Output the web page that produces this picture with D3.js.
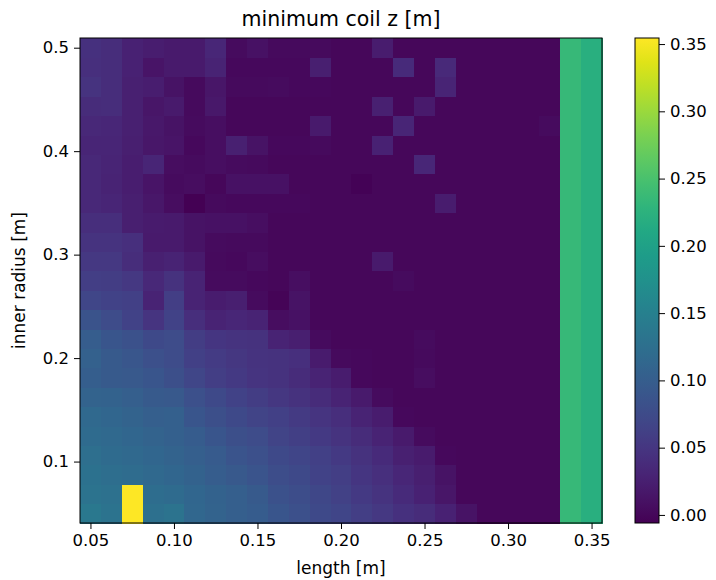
<!DOCTYPE html>
<html>
<head>
<meta charset="utf-8">
<script src="https://cdn.jsdelivr.net/npm/d3@7/dist/d3.min.js"></script>
<style>
body { margin:0; background:#fff; }
text { font-family:"DejaVu Sans", sans-serif; fill:#000; }
</style>
</head>
<body>
<div id="chart"></div>
<script>

// cell centres
var lengths = [0.05, 0.0625, 0.075, 0.0875, 0.1, 0.1125, 0.125, 0.1375, 0.15, 0.1625, 0.175, 0.1875, 0.2,
	0.2125, 0.225, 0.2375, 0.25, 0.2625, 0.275, 0.2875, 0.3, 0.3125, 0.325, 0.3375, 0.35]
var radii = [0.05, 0.06875, 0.0875, 0.10625, 0.125, 0.14375, 0.1625, 0.18125, 0.2, 0.21875, 0.2375, 0.25625, 0.275,
	0.29375, 0.3125, 0.33125, 0.35, 0.36875, 0.3875, 0.40625, 0.425, 0.44375, 0.4625, 0.48125, 0.5]

// minimum coil z, one row per inner radius (bottom row first), one value per length
var minZ = [
	[0.138,0.131,0.3545,0.125,0.131,0.113,0.108,0.102,0.097,0.089,0.082,0.074,0.068,0.060,0.052,0.044,0.038,0.027,0.012,0,0,0,0,0.236,0.222],
	[0.131,0.127,0.3545,0.122,0.119,0.112,0.106,0.102,0.094,0.084,0.078,0.071,0.064,0.054,0.047,0.037,0.027,0.015,0,0,0,0,0,0.236,0.222],
	[0.128,0.123,0.120,0.116,0.112,0.106,0.099,0.093,0.087,0.078,0.073,0.065,0.060,0.050,0.043,0.033,0.024,0.012,0,0,0,0,0,0.236,0.222],
	[0.124,0.119,0.116,0.112,0.107,0.102,0.096,0.088,0.082,0.074,0.068,0.062,0.054,0.045,0.037,0.025,0.020,0.002,0,0,0,0,0,0.236,0.222],
	[0.119,0.116,0.112,0.108,0.103,0.097,0.089,0.081,0.076,0.067,0.061,0.054,0.047,0.039,0.028,0.018,0.004,0,0,0,0,0,0,0.236,0.222],
	[0.116,0.112,0.107,0.102,0.103,0.089,0.081,0.074,0.067,0.062,0.055,0.048,0.041,0.028,0.022,0.002,0,0,0,0,0,0,0,0.236,0.222],
	[0.107,0.106,0.102,0.095,0.093,0.082,0.073,0.065,0.058,0.051,0.045,0.038,0.029,0.018,0.004,0,0,0,0,0,0,0,0,0.236,0.222],
	[0.101,0.094,0.093,0.089,0.081,0.070,0.060,0.054,0.048,0.045,0.038,0.028,0.021,0.002,0,0,0.006,0,0,0,0,0,0,0.236,0.222],
	[0.104,0.094,0.091,0.082,0.077,0.062,0.056,0.051,0.047,0.045,0.042,0.020,0.003,0.002,0,0,0.003,0,0,0,0,0,0,0.236,0.222],
	[0.099,0.089,0.083,0.074,0.076,0.058,0.050,0.047,0.045,0.028,0.024,0.005,0,0,0,0,0.005,0,0,0,0,0,0,0.236,0.222],
	[0.086,0.076,0.065,0.048,0.065,0.041,0.028,0.033,0.028,0.006,0.010,0,0,0,0,0,0,0,0,0,0,0,0,0.236,0.222],
	[0.070,0.065,0.063,0.028,0.059,0.028,0.022,0.024,0.004,-0.003,0.012,0,0,0,0,0,0,0,0,0,0,0,0,0.236,0.222],
	[0.059,0.058,0.052,0.034,0.046,0.028,0.004,0.004,0.002,0,0.008,0,0,0,0,0.005,0,0,0,0,0,0,0,0.236,0.222],
	[0.053,0.053,0.040,0.025,0.029,0.018,0.003,0.002,0.006,0,0,0,0,0,0.018,0,0,0,0,0,0,0,0,0.236,0.222],
	[0.047,0.047,0.043,0.018,0.019,0.012,0.004,0.003,0.003,0,0,0,0,0,0,0,0,0,0,0,0,0,0,0.236,0.222],
	[0.041,0.041,0.024,0.020,0.019,0.012,0.010,0.010,0.008,0,0,0,0,0,0,0,0,0,0,0,0,0,0,0.236,0.222],
	[0.034,0.031,0.024,0.016,0.006,-0.006,0.003,0.002,0.002,0.002,0.002,0,0,0,0,0,0,0.022,0,0,0,0,0,0.236,0.222],
	[0.034,0.029,0.023,0.013,0.005,0.006,0,0.010,0.010,0.010,0,0,0,-0.004,0,0,0,0,0,0,0,0,0,0.236,0.222],
	[0.034,0.030,0.023,0.031,0.006,0.004,0.008,0.005,0.003,0,0,0,0,0,0,0,0.033,0,0,0,0,0,0,0.236,0.222],
	[0.032,0.032,0.024,0.016,0.013,0.002,0.007,0.025,0.012,0.002,0.002,0.003,0,0,0.027,0,0,0,0,0,0,0,0,0.236,0.222],
	[0.034,0.033,0.025,0.017,0.012,0.004,0.008,0,0,0,0,0.018,0,0,0,0.032,0,0,0,0,0,0,0.004,0.236,0.222],
	[0.038,0.040,0.025,0.014,0.018,0.003,0.017,0,0,0,0,0,0,0,0.026,0,0.018,0,0,0,0,0,0,0.236,0.222],
	[0.047,0.040,0.025,0.023,0.012,0.003,0.014,0.003,0.003,0.005,0.002,0.002,0,0,0,0,0,0.030,0,0,0,0,0,0.236,0.222],
	[0.042,0.040,0.027,0.013,0.019,0.018,0.029,0.002,0.002,0.002,0.002,0.024,0,0,0,0.037,0,0.036,0,0,0,0,0,0.236,0.222],
	[0.044,0.040,0.027,0.023,0.019,0.019,0.033,0.004,0.010,0.003,0.003,0.003,0,0,0.022,0,0,0,0,0,0,0,0,0.236,0.222]
]

var xTicks = [0.05, 0.10, 0.15, 0.20, 0.25, 0.30, 0.35]
var yTicks = [0.1, 0.2, 0.3, 0.4, 0.5]
var cbTicks = [0.00, 0.05, 0.10, 0.15, 0.20, 0.25, 0.30, 0.35]

var W = 716, H = 580
var pLeft = 80, pRight = 602, pTop = 38, pBottom = 523
var tickFont = "16.5px"

var svg = d3.select("#chart").append("svg")
	.attr("width", W)
	.attr("height", H)

var dx = lengths[1] - lengths[0]
var dy = radii[1] - radii[0]

var x = d3.scaleLinear()
	.domain([lengths[0] - dx / 2, lengths[lengths.length - 1] + dx / 2])
	.range([pLeft, pRight])

var y = d3.scaleLinear()
	.domain([radii[0] - dy / 2, radii[radii.length - 1] + dy / 2])
	.range([pBottom, pTop])

var allVals = d3.merge(minZ)
var color = d3.scaleSequential(d3.interpolateViridis)
	.domain(d3.extent(allVals))

// flatten into cells
var cells = []
for (var j = 0; j < radii.length; j++)
	for (var i = 0; i < lengths.length; i++)
		cells.push({ l: lengths[i], r: radii[j], v: minZ[j][i] })

svg.append("g")
	.selectAll("rect")
	.data(cells)
	.enter().append("rect")
	.attr("x", function(d) { return x(d.l - dx / 2) })
	.attr("y", function(d) { return y(d.r + dy / 2) })
	.attr("width", function(d) { return x(d.l + dx / 2) - x(d.l - dx / 2) + 0.5 })
	.attr("height", function(d) { return y(d.r - dy / 2) - y(d.r + dy / 2) + 0.5 })
	.attr("fill", function(d) { return color(d.v) })
	.attr("shape-rendering", "crispEdges")

// axes
var xAxis = d3.axisBottom(x).tickValues(xTicks).tickFormat(d3.format(".2f")).tickSizeOuter(0).tickSize(6).tickPadding(5)
var yAxis = d3.axisLeft(y).tickValues(yTicks).tickFormat(d3.format(".1f")).tickSizeOuter(0).tickSize(6).tickPadding(5)

var gx = svg.append("g").attr("transform", "translate(0," + pBottom + ")").call(xAxis)
var gy = svg.append("g").attr("transform", "translate(" + pLeft + ",0)").call(yAxis)
gx.select(".domain").remove()
gy.select(".domain").remove()
svg.selectAll(".tick text").style("font-size", tickFont).attr("fill", "#000")
svg.selectAll(".tick line").attr("stroke", "#000")

svg.append("rect")
	.attr("x", pLeft).attr("y", pTop)
	.attr("width", pRight - pLeft).attr("height", pBottom - pTop)
	.attr("fill", "none").attr("stroke", "#000").attr("stroke-width", 1)

// title and labels
svg.append("text")
	.attr("x", (pLeft + pRight) / 2).attr("y", 26)
	.attr("text-anchor", "middle")
	.style("font-size", "20.5px")
	.text("minimum coil z [m]")

svg.append("text")
	.attr("x", (pLeft + pRight) / 2).attr("y", 574)
	.attr("text-anchor", "middle")
	.style("font-size", "17px")
	.text("length [m]")

svg.append("text")
	.attr("transform", "translate(25," + ((pTop + pBottom) / 2) + ") rotate(-90)")
	.attr("text-anchor", "middle")
	.style("font-size", "17px")
	.text("inner radius [m]")

// colorbar
var cbX = 635, cbW = 24
var cb = d3.scaleLinear().domain(color.domain()).range([pBottom, pTop])

var grad = svg.append("defs").append("linearGradient")
	.attr("id", "cbgrad")
	.attr("x1", 0).attr("y1", 1).attr("x2", 0).attr("y2", 0)
grad.selectAll("stop")
	.data(d3.range(0, 1.0001, 0.05))
	.enter().append("stop")
	.attr("offset", function(d) { return d })
	.attr("stop-color", function(d) { return d3.interpolateViridis(d) })

svg.append("rect")
	.attr("x", cbX).attr("y", pTop)
	.attr("width", cbW).attr("height", pBottom - pTop)
	.attr("fill", "url(#cbgrad)")
	.attr("stroke", "#000").attr("stroke-width", 1)

var cAxis = d3.axisRight(cb).tickValues(cbTicks).tickFormat(d3.format(".2f")).tickSizeOuter(0).tickSize(6).tickPadding(5)
var gc = svg.append("g").attr("transform", "translate(" + (cbX + cbW) + ",0)").call(cAxis)
gc.select(".domain").remove()
gc.selectAll(".tick text").style("font-size", tickFont).attr("fill", "#000")
gc.selectAll(".tick line").attr("stroke", "#000")

</script>
</body>
</html>
